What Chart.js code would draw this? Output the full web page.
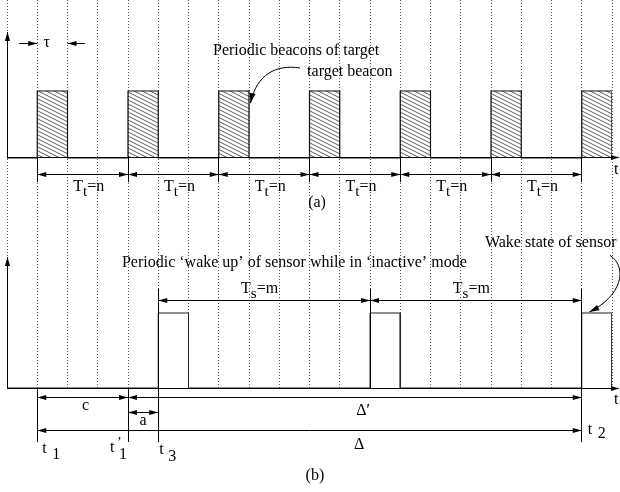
<!DOCTYPE html>
<html>
<head>
<meta charset="utf-8">
<script src="https://cdn.jsdelivr.net/npm/chart.js@4/dist/chart.umd.min.js"></script>
<style>
  html, body { margin: 0; padding: 0; background: #fff; }
  #wrap { width: 620px; height: 492px; position: relative; }
</style>
</head>
<body>
<div id="wrap"><canvas id="c"></canvas></div>
<script>
// Time axis: one slot per dotted grid line
const timeRange = [0, 20];
// (a) Target beacons: start slot of each beacon, beacon width tau (slots)
const beaconStarts = [1, 4, 7, 10, 13, 16, 19];
const beaconWidth = 1;
// (b) Sensor wake-ups while in inactive mode, wake duration (slots)
const wakeStarts = [5, 12, 19];
const wakeWidth = 1;
// Marked instants on the sensor time line
const instants = { t1: 1, t1p: 4, t3: 5, t2: 19 };
// Text labels
const periodLabelA = [{ text: 'T' }, { text: 't', dy: 5, size: 15 }, { text: '=n' }];
const periodLabelB = [{ text: 'T' }, { text: 's', dy: 5, size: 15 }, { text: '=m' }];
const noteBeacons = ['Periodic beacons of target', 'target beacon'];
const noteWake = ['Periodic \u2018wake up\u2019 of sensor while in \u2018inactive\u2019 mode', 'Wake state of sensor'];

const INK = '#000';
const FONT = '"Liberation Serif", "Times New Roman", serif';
const font = (s) => (s || 16) + 'px ' + FONT;

// square pulse train: baseline 0, level 1 while a pulse is on
function pulseTrain(starts, width) {
  const pts = [{ x: timeRange[0], y: 0 }];
  starts.forEach(s => {
    pts.push({ x: s, y: 0 }, { x: s, y: 1 }, { x: s + width, y: 1 }, { x: s + width, y: 0 });
  });
  return pts;
}

// shallow diagonal hatching for the beacon pulses
function hatch() {
  const w = 8, h = 4;
  const cv = document.createElement('canvas');
  cv.width = w; cv.height = h;
  const g = cv.getContext('2d');
  g.strokeStyle = '#333';
  g.lineWidth = 0.8;
  for (let k = -1; k <= 1; k++) {
    g.beginPath();
    g.moveTo(0, k * h);
    g.lineTo(w, h + k * h);
    g.stroke();
  }
  return g.createPattern(cv, 'repeat');
}

const diagram = {
  id: 'diagram',
  afterDatasetsDraw(chart) {
    const { ctx, scales: { x, ya, yb } } = chart;
    const X = u => x.getPixelForValue(u);
    const A = v => ya.getPixelForValue(v);
    const B = v => yb.getPixelForValue(v);
    const snap = p => Math.round(p - 0.5) + 0.5;

    ctx.save();
    ctx.strokeStyle = INK;
    ctx.fillStyle = INK;
    ctx.lineWidth = 1;
    ctx.textBaseline = 'middle';

    function seg(x1, y1, x2, y2) {
      if (x1 === x2) { x1 = x2 = snap(x1); }
      if (y1 === y2) { y1 = y2 = snap(y1); }
      ctx.beginPath(); ctx.moveTo(x1, y1); ctx.lineTo(x2, y2); ctx.stroke();
    }
    function head(xt, yt, dx, dy, len = 9, half = 2.6) {
      const n = Math.hypot(dx, dy); dx /= n; dy /= n;
      ctx.beginPath();
      ctx.moveTo(xt, yt);
      ctx.lineTo(xt - dx * len - dy * half, yt - dy * len + dx * half);
      ctx.lineTo(xt - dx * len + dy * half, yt - dy * len - dx * half);
      ctx.closePath(); ctx.fill();
    }
    function dim(x1, x2, y) {
      seg(x1, y, x2, y);
      const yy = snap(y);
      head(x1, yy, -1, 0); head(x2, yy, 1, 0);
    }
    function text(parts, px, py, align) {
      let w = 0;
      parts.forEach(p => { ctx.font = font(p.size); w += ctx.measureText(p.text).width; });
      let cx = align === 'center' ? px - w / 2 : px;
      ctx.textAlign = 'left';
      parts.forEach(p => {
        ctx.font = font(p.size);
        ctx.fillText(p.text, cx, py + (p.dy || 0));
        cx += ctx.measureText(p.text).width;
      });
    }
    function curveArrow(p0, c1, c2, p1) {
      ctx.beginPath();
      ctx.moveTo(p0[0], p0[1]);
      ctx.bezierCurveTo(c1[0], c1[1], c2[0], c2[1], p1[0], p1[1]);
      ctx.stroke();
      head(p1[0], p1[1], p1[0] - c2[0], p1[1] - c2[1], 10, 3);
    }
    function axes(Y, top, tLabelY) {
      const x0 = snap(X(timeRange[0]));
      seg(x0, Y(0), x0, Y(top));
      head(x0, Y(top), 0, -1, 9, 2.6);
      const xe = X(timeRange[1] + 0.23);
      seg(X(timeRange[0]), Y(0), xe, Y(0));
      head(xe, snap(Y(0)), 1, 0, 8, 2.6);
      text([{ text: 't' }], X(timeRange[1]) + 2, Y(tLabelY));
    }

    // ---------- (a) target beacons ----------
    axes(A, 1.88, -0.18);
    const tauY = A(1.716);
    const b0 = beaconStarts[0];
    seg(X(b0 - 0.6), tauY, X(b0), tauY); head(X(b0), snap(tauY), 1, 0);
    seg(X(b0 + beaconWidth + 0.58), tauY, X(b0 + beaconWidth), tauY); head(X(b0 + beaconWidth), snap(tauY), -1, 0);
    text([{ text: '\u03c4' }], X(b0 + 0.31), tauY, 'center');

    beaconStarts.forEach(s => seg(X(s), A(0), X(s), A(-0.36)));
    for (let i = 0; i < beaconStarts.length - 1; i++) {
      const s0 = beaconStarts[i], s1 = beaconStarts[i + 1];
      dim(X(s0), X(s1), A(-0.24));
      text(periodLabelA, X((s0 + s1) / 2 + 0.2), A(-0.43), 'center');
    }
    text([{ text: '(a)' }], X(10.25), A(-0.67), 'center');
    text([{ text: noteBeacons[0] }], X(6.81), A(1.6));
    text([{ text: noteBeacons[1] }], X(9.92), A(1.284));
    curveArrow([X(9.69), A(1.343)], [X(8.9), A(1.40)], [X(8.25), A(1.25)], [X(8.05), A(0.82)]);

    // ---------- (b) sensor wake-ups ----------
    axes(B, 1.747, -0.16);
    const instantList = Object.values(instants);
    wakeStarts.forEach(s => {
      const low = instantList.includes(s) ? -0.72 : 0;
      seg(X(s), B(1.32), X(s), B(low));
    });
    for (let i = 0; i < wakeStarts.length - 1; i++) {
      const s0 = wakeStarts[i], s1 = wakeStarts[i + 1];
      dim(X(s0), X(s1), B(1.16));
      text(periodLabelB, X((s0 + s1) / 2 - 0.15), B(1.32), 'center');
    }
    [instants.t1, instants.t1p].forEach(t => seg(X(t), B(0), X(t), B(-0.72)));

    dim(X(instants.t1), X(instants.t1p), B(-0.12));
    dim(X(instants.t1p), X(instants.t2), B(-0.12));
    dim(X(instants.t1p), X(instants.t3), B(-0.32));
    dim(X(instants.t1), X(instants.t2), B(-0.573));
    text([{ text: 'c' }], X((instants.t1 + instants.t1p) / 2 + 0.1), B(-0.24), 'center');
    text([{ text: 'a' }], X((instants.t1p + instants.t3) / 2), B(-0.44), 'center');
    text([{ text: '\u0394\u2032' }], X(11.77), B(-0.307), 'center');
    text([{ text: '\u0394' }], X(11.64), B(-0.76), 'center');

    // instant names under the extension lines
    text([{ text: 't' }], X(instants.t1) + 5, B(-0.813));
    text([{ text: '1' }], X(instants.t1) + 15, B(-0.893));
    text([{ text: 't' }], X(instants.t1p) - 18, B(-0.80));
    text([{ text: '\u2019', size: 14 }], X(instants.t1p) - 11, B(-0.74));
    text([{ text: '1' }], X(instants.t1p) - 9, B(-0.893));
    text([{ text: 't' }], X(instants.t3) + 1, B(-0.827));
    text([{ text: '3' }], X(instants.t3) + 10, B(-0.92));
    text([{ text: 't' }], X(instants.t2) + 6, B(-0.56));
    text([{ text: '2' }], X(instants.t2) + 16, B(-0.613));

    text([{ text: '(b)' }], X(10.18), B(-1.173), 'center');
    text([{ text: noteWake[0] }], X(3.8), B(1.667));
    text([{ text: noteWake[1] }], X(15.8), B(1.933));
    curveArrow([X(19.93), B(1.77)], [X(20.55), B(1.6)], [X(20.3), B(1.22)], [X(19.25), B(1.013)]);

    ctx.restore();
  }
};

new Chart(document.getElementById('c'), {
  type: 'line',
  data: {
    datasets: [
      {
        data: pulseTrain(beaconStarts, beaconWidth),
        yAxisID: 'ya',
        borderColor: '#111',
        borderWidth: 1.2,
        backgroundColor: hatch(),
        fill: 'origin',
        pointRadius: 0,
        tension: 0
      },
      {
        data: pulseTrain(wakeStarts, wakeWidth),
        yAxisID: 'yb',
        borderColor: '#222',
        borderWidth: 1,
        fill: false,
        pointRadius: 0,
        tension: 0
      }
    ]
  },
  options: {
    responsive: true,
    maintainAspectRatio: false,
    animation: false,
    events: [],
    layout: { padding: { left: 7, right: 8, top: 0, bottom: 104 } },
    plugins: { legend: { display: false }, tooltip: { enabled: false } },
    scales: {
      x: {
        type: 'linear',
        min: timeRange[0],
        max: timeRange[1],
        ticks: { display: false, stepSize: 1, maxTicksLimit: 40 },
        grid: { color: '#555', lineWidth: 1, drawTicks: false },
        border: { display: false, dash: [1, 2] }
      },
      ya: { display: false, min: -3.433, max: 2.358 },
      yb: { display: false, min: 0, max: 5.173 }
    }
  },
  plugins: [diagram]
});
</script>
</body>
</html>
